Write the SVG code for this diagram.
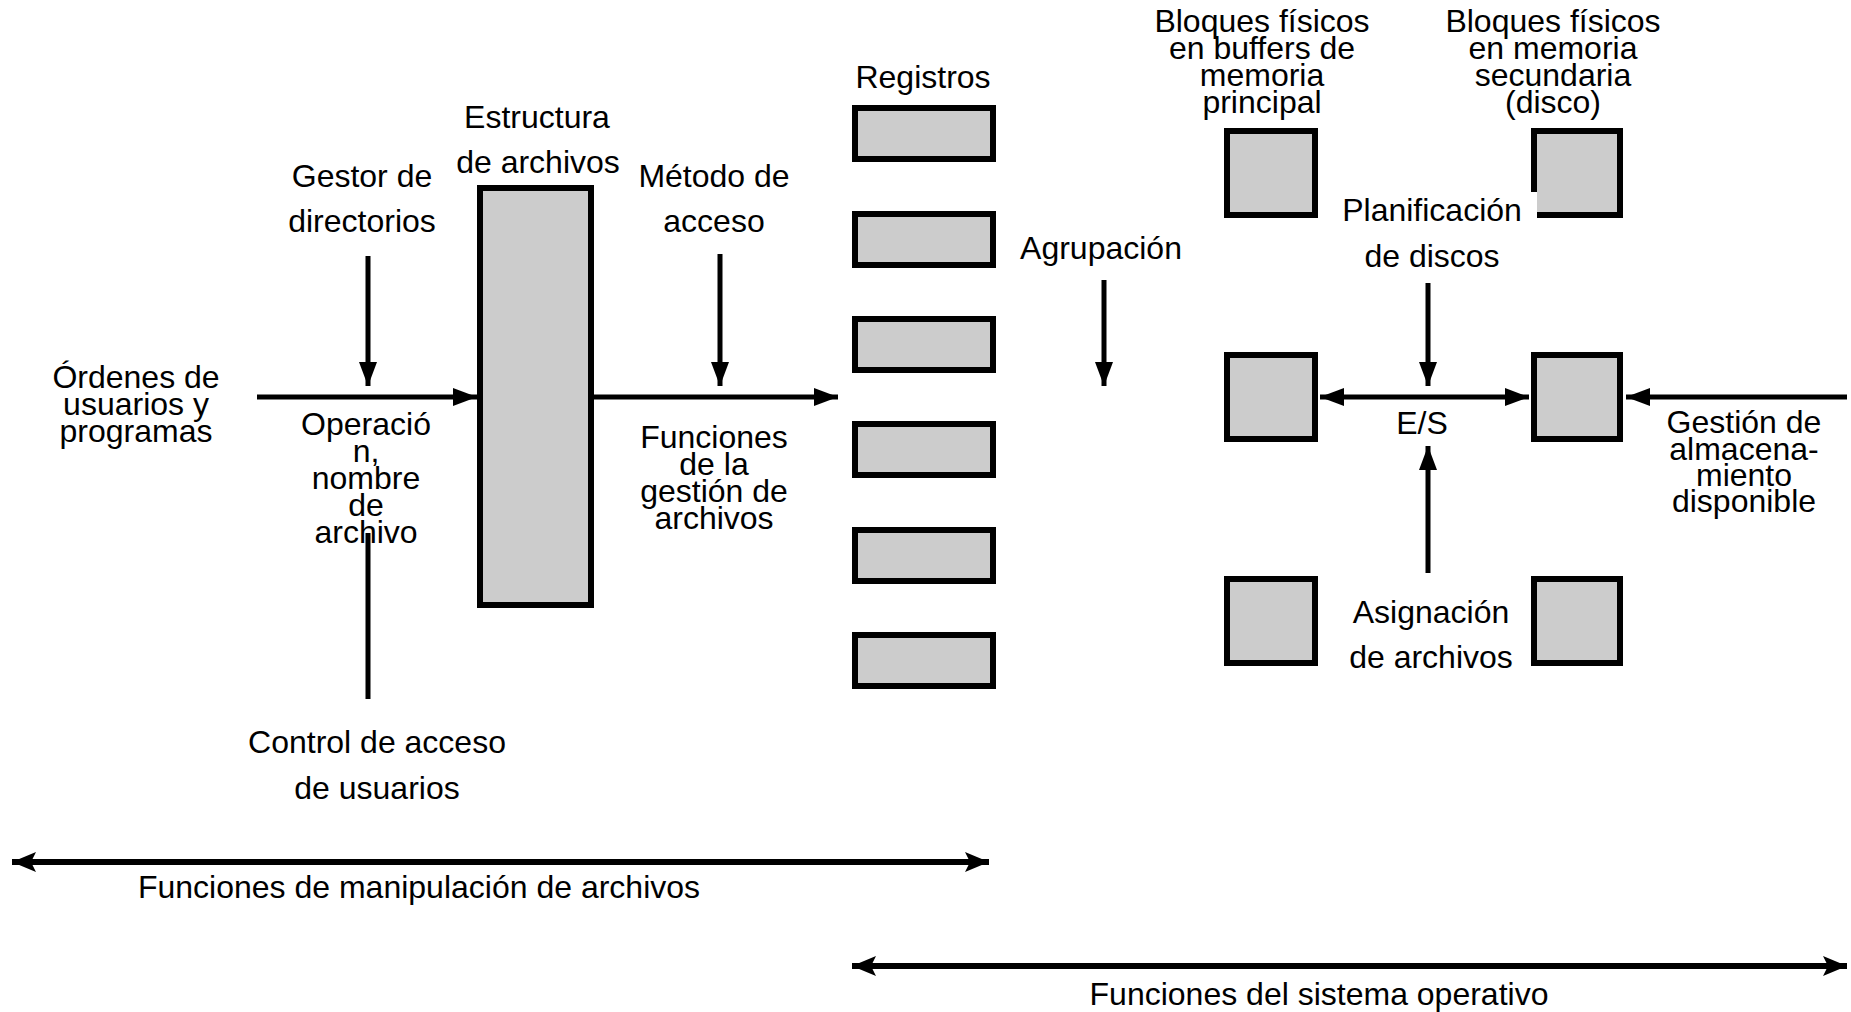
<svg xmlns="http://www.w3.org/2000/svg" width="1851" height="1012" viewBox="0 0 1851 1012">
<style>
text{font-family:"Liberation Sans",Arial,sans-serif;font-size:32px;fill:#000;text-anchor:middle}
.box{fill:#cccccc;stroke:#000;stroke-width:6}
.ln{stroke:#000;stroke-width:5;fill:none}
.thick{stroke:#000;stroke-width:6;fill:none}
</style>
<defs>
<marker id="ah" markerUnits="userSpaceOnUse" markerWidth="26" markerHeight="20" refX="24" refY="10" orient="auto-start-reverse">
<path d="M0,1 L24,10 L0,19 Z" fill="#000"/>
</marker>
<marker id="ah2" markerUnits="userSpaceOnUse" markerWidth="26" markerHeight="22" refX="24" refY="11" orient="auto-start-reverse">
<path d="M0,1 L24,11 L0,21 L5,11 Z" fill="#000"/>
</marker>
</defs>

<g id="connectors">
<line class="ln" x1="257" y1="397" x2="477" y2="397" marker-end="url(#ah)"/>
<line class="ln" x1="594" y1="397" x2="838" y2="397" marker-end="url(#ah)"/>
<line class="ln" x1="368" y1="256" x2="368" y2="386" marker-end="url(#ah)"/>
<line class="ln" x1="720" y1="254" x2="720" y2="386" marker-end="url(#ah)"/>
<line class="ln" x1="1104" y1="280" x2="1104" y2="386" marker-end="url(#ah)"/>
<line class="ln" x1="368" y1="533" x2="368" y2="699"/>
<line class="ln" x1="1320" y1="397" x2="1529" y2="397" marker-start="url(#ah)" marker-end="url(#ah)"/>
<line class="ln" x1="1428" y1="283" x2="1428" y2="386" marker-end="url(#ah)"/>
<line class="ln" x1="1428" y1="573" x2="1428" y2="446" marker-end="url(#ah)"/>
<line class="ln" x1="1847" y1="397" x2="1626" y2="397" marker-end="url(#ah)"/>
<line class="thick" x1="12" y1="862" x2="989" y2="862" marker-start="url(#ah2)" marker-end="url(#ah2)"/>
<line class="thick" x1="852" y1="966" x2="1847" y2="966" marker-start="url(#ah2)" marker-end="url(#ah2)"/>
</g>

<g id="estructura">
<rect class="box" x="480" y="188" width="111" height="417"/>
<text x="537" y="128">Estructura</text>
<text x="538" y="173">de archivos</text>
</g>

<g id="registros">
<text x="923" y="88">Registros</text>
<rect class="box" x="855" y="108" width="138" height="51"/>
<rect class="box" x="855" y="214" width="138" height="51"/>
<rect class="box" x="855" y="319" width="138" height="51"/>
<rect class="box" x="855" y="424" width="138" height="51"/>
<rect class="box" x="855" y="530" width="138" height="51"/>
<rect class="box" x="855" y="635" width="138" height="51"/>
</g>

<g id="bloques-buffers">
<rect class="box" x="1227" y="131" width="88" height="84"/>
<rect class="box" x="1227" y="355" width="88" height="84"/>
<rect class="box" x="1227" y="579" width="88" height="84"/>
<text x="1262" y="32">Bloques físicos</text>
<text x="1262" y="59">en buffers de</text>
<text x="1262" y="86">memoria</text>
<text x="1262" y="113">principal</text>
</g>

<g id="bloques-disco">
<rect class="box" x="1534" y="131" width="86" height="84"/>
<rect class="box" x="1534" y="355" width="86" height="84"/>
<rect class="box" x="1534" y="579" width="86" height="84"/>
<text x="1553" y="32">Bloques físicos</text>
<text x="1553" y="59">en memoria</text>
<text x="1553" y="86">secundaria</text>
<text x="1553" y="113">(disco)</text>
</g>

<g id="gestor-directorios">
<text x="362" y="187">Gestor de</text>
<text x="362" y="232">directorios</text>
</g>
<g id="metodo-acceso">
<text x="714" y="187">Método de</text>
<text x="714" y="232">acceso</text>
</g>
<g id="agrupacion">
<text x="1101" y="259">Agrupación</text>
</g>
<g id="planificacion">
<rect x="1527" y="192" width="10" height="27" fill="#fff"/>
<text x="1432" y="221">Planificación</text>
<text x="1432" y="267">de discos</text>
</g>
<g id="ordenes">
<text x="136" y="388">Órdenes de</text>
<text x="136" y="415">usuarios y</text>
<text x="136" y="442">programas</text>
</g>
<g id="operacion">
<text x="366" y="435">Operació</text>
<text x="366" y="462">n,</text>
<text x="366" y="489">nombre</text>
<text x="366" y="516">de</text>
<text x="366" y="543">archivo</text>
</g>
<g id="funciones-gestion">
<text x="714" y="448">Funciones</text>
<text x="714" y="475">de la</text>
<text x="714" y="502">gestión de</text>
<text x="714" y="529">archivos</text>
</g>
<g id="es">
<text x="1422" y="434">E/S</text>
</g>
<g id="gestion-almacenamiento">
<text x="1744" y="433">Gestión de</text>
<text x="1744" y="460">almacena-</text>
<text x="1744" y="486">miento</text>
<text x="1744" y="512">disponible</text>
</g>
<g id="asignacion">
<text x="1431" y="623">Asignación</text>
<text x="1431" y="668">de archivos</text>
</g>
<g id="control-acceso">
<text x="377" y="753">Control de acceso</text>
<text x="377" y="799">de usuarios</text>
</g>
<g id="funciones-manipulacion">
<text x="419" y="898">Funciones de manipulación de archivos</text>
</g>
<g id="funciones-so">
<text x="1319" y="1005">Funciones del sistema operativo</text>
</g>
</svg>
